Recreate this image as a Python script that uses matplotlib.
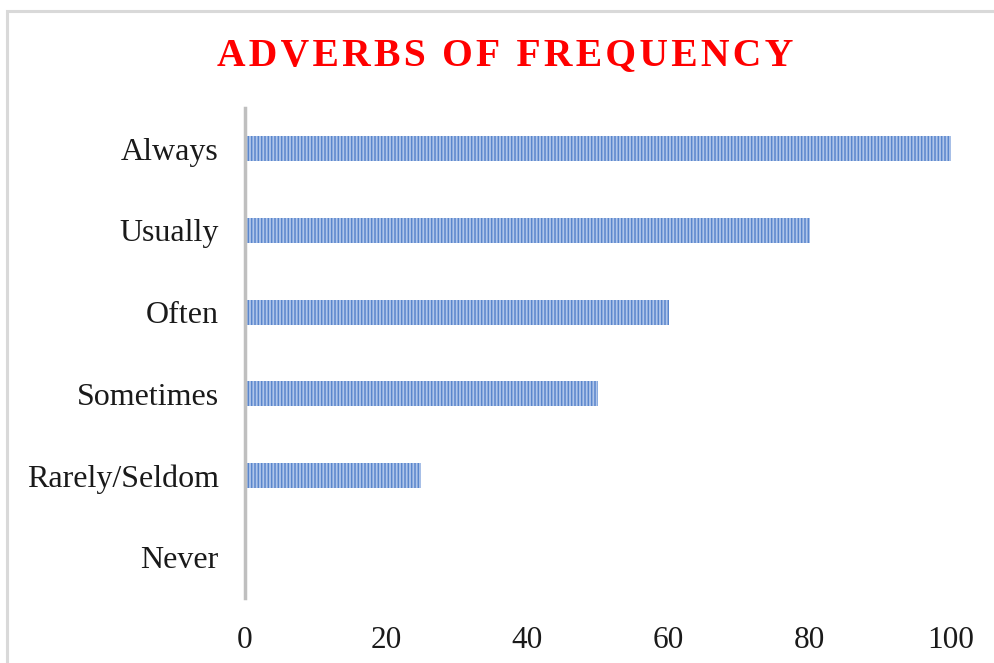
import matplotlib
matplotlib.use("Agg")
import matplotlib.pyplot as plt
from matplotlib.patches import Rectangle

categories = ["Always", "Usually", "Often", "Sometimes", "Rarely/Seldom", "Never"]
values = [100, 80, 60, 50, 25, 0]
xticks = [0, 20, 40, 60, 80, 100]
title = "ADVERBS OF FREQUENCY"

plt.rcParams['font.family'] = ['Liberation Serif', 'DejaVu Serif']
plt.rcParams['hatch.linewidth'] = 1.1

fig = plt.figure(figsize=(9.95, 6.63), dpi=100)
fig.patch.set_facecolor('white')

# outer frame
fig.add_artist(Rectangle((7.5/995, -0.01), 1.0, 1 - 10.5/663 + 0.01, transform=fig.transFigure,
                         fill=False, edgecolor='#D9D9D9', linewidth=2.2, clip_on=False))

ax = fig.add_axes([245/995, 1 - 598/663, (951 - 245)/995, (598 - 108)/663])
ypos = list(range(len(categories)))
ax.barh(ypos, values, height=0.31, color='#B0C6EA', edgecolor='#5A86CC',
        hatch='|||||', linewidth=0)
ax.set_yticks(ypos)
ax.set_yticklabels(categories, fontsize=23, color='#1A1A1A')
ax.set_ylim(len(categories) - 0.5, -0.5)
ax.set_xlim(0, 100)
ax.set_xticks(xticks)
ax.set_xticklabels([str(t) for t in xticks], fontsize=22.5, color='#1A1A1A')
ax.tick_params(axis='both', length=0)
ax.tick_params(axis='x', pad=20)
ax.tick_params(axis='y', pad=19)
for s in ['top', 'right', 'bottom']:
    ax.spines[s].set_visible(False)
ax.spines['left'].set_color('#BFBFBF')
ax.spines['left'].set_linewidth(2.5)

spaced_title = '\u200a'.join(title)
fig.text(505/995, 1 - 56/663, spaced_title, ha='center', va='center', color='#FF0000',
         fontsize=28.5, fontweight='bold')

fig.savefig('out.png', dpi=100)
